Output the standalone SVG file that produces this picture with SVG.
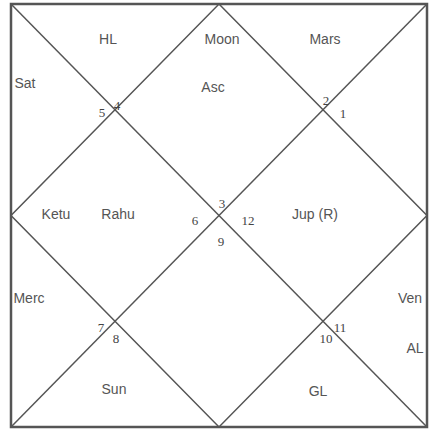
<svg xmlns="http://www.w3.org/2000/svg" width="432" height="432" viewBox="0 0 432 432">
<style>
.lbl{font-family:"Liberation Sans",Arial,sans-serif;font-size:14px;fill:#555;text-anchor:middle}
.num{font-family:"Liberation Serif","Times New Roman",serif;font-size:13px;fill:#444;text-anchor:middle}
.ln{stroke:#555;stroke-width:1.5;fill:none}
</style>
<rect width="432" height="432" fill="#fff"/>
<g id="connectors">
<rect x="11" y="4" width="416" height="423" fill="none" stroke="#555" stroke-width="2.5"/>
<line class="ln" x1="11" y1="4" x2="427" y2="427"/>
<line class="ln" x1="427" y1="4" x2="11" y2="427"/>
<polygon class="ln" points="219,4 427,215.5 219,427 11,215.5"/>
</g>
<g id="house1"><text class="lbl" x="213" y="92">Asc</text><text class="lbl" x="222" y="44">Moon</text><text class="num" x="222" y="208">3</text></g>
<g id="house2"><text class="lbl" x="108" y="44">HL</text><text class="num" x="117" y="110">4</text></g>
<g id="house3"><text class="lbl" x="25" y="88">Sat</text><text class="num" x="102" y="117">5</text></g>
<g id="house4"><text class="lbl" x="56" y="219">Ketu</text><text class="lbl" x="118" y="219">Rahu</text><text class="num" x="195" y="225">6</text></g>
<g id="house5"><text class="lbl" x="29" y="303">Merc</text><text class="num" x="101" y="332">7</text></g>
<g id="house6"><text class="lbl" x="114" y="394">Sun</text><text class="num" x="116" y="343">8</text></g>
<g id="house7"><text class="num" x="221" y="246">9</text></g>
<g id="house8"><text class="lbl" x="318" y="396">GL</text><text class="num" x="326" y="343">10</text></g>
<g id="house9"><text class="lbl" x="410" y="303">Ven</text><text class="lbl" x="415" y="353">AL</text><text class="num" x="340" y="332">11</text></g>
<g id="house10"><text class="lbl" x="315" y="219">Jup (R)</text><text class="num" x="248" y="225">12</text></g>
<g id="house11"><text class="num" x="343" y="118">1</text></g>
<g id="house12"><text class="lbl" x="325" y="44">Mars</text><text class="num" x="326" y="105">2</text></g>
</svg>
